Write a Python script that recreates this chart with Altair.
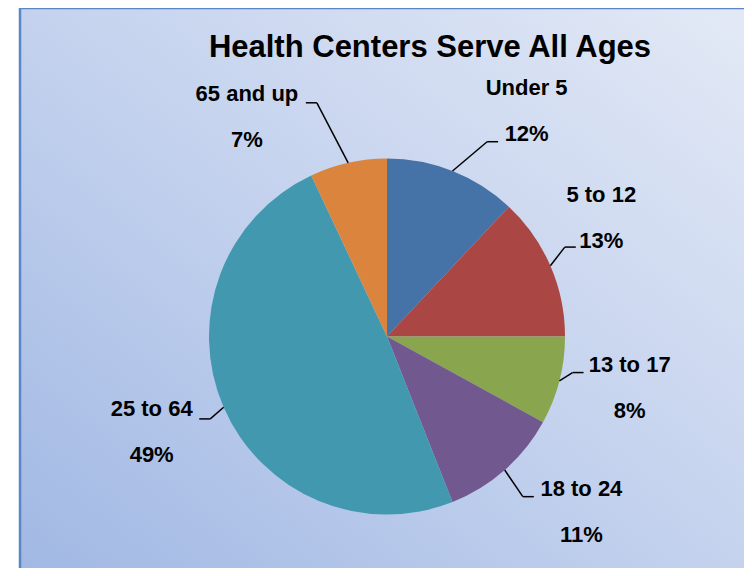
import altair as alt
import pandas as pd

# ---- data ----
CATEGORIES = ["Under 5", "5 to 12", "13 to 17", "18 to 24", "25 to 64", "65 and up"]
PERCENTS = [12, 13, 8, 11, 49, 7]
COLORS = ["#4572A7", "#AA4643", "#89A54E", "#71588F", "#4198AF", "#DB843D"]
TITLE = "Health Centers Serve All Ages"

# ---- label layout (relative to each slice's middle angle) ----
LABEL_SHIFT_DEG = [10.2, -5.6, -2.5, -6.5, 1.3, -20.0]
LABEL_DIST = [265, 245, 248, 262, 254, 260]
ELBOW_SHIFT_DEG = [5.6, -3.3, -3.4, 1.1, -1.6, -4.1]
ELBOW_DIST = [219, 199, 189, 210, 195, 244]

W, H = 736, 560
CX, CY, R = 379, 328.5, 178
FONT = "Liberation Sans"

df = pd.DataFrame({
    "category": CATEGORIES,
    "value": PERCENTS,
    "idx": list(range(len(CATEGORIES))),
    "lshift": LABEL_SHIFT_DEG,
    "ldist": LABEL_DIST,
    "eshift": ELBOW_SHIFT_DEG,
    "edist": ELBOW_DIST,
})

one = pd.DataFrame({"a": [0]})

background = alt.Chart(one).mark_rect(
    fill=alt.Gradient(
        gradient="linear",
        stops=[alt.GradientStop(color="#9fb7e3", offset=0),
               alt.GradientStop(color="#c4d2ee", offset=0.5),
               alt.GradientStop(color="#e4eaf6", offset=1)],
        x1=0, y1=1, x2=1, y2=0,
    ),
    stroke="#5a86c6",
    strokeWidth=2.5,
).encode(
    x=alt.value(12), x2=alt.value(W + 30),
    y=alt.value(0), y2=alt.value(H + 30),
)

title = alt.Chart(one).mark_text(
    text=TITLE, font=FONT, fontSize=31, fontWeight="bold",
    align="center", baseline="alphabetic", color="#000000",
).encode(x=alt.value(422), y=alt.value(49))

pie = alt.Chart(df).mark_arc(outerRadius=R).encode(
    theta=alt.Theta("value:Q", stack=True),
    color=alt.Color("category:N", scale=alt.Scale(domain=CATEGORIES, range=COLORS), legend=None),
    order=alt.Order("idx:Q"),
    x=alt.value(CX),
    y=alt.value(CY),
)

geo = alt.Chart(df).transform_joinaggregate(
    total="sum(value)"
).transform_window(
    cum="sum(value)", sort=[alt.SortField("idx")], frame=[None, 0]
).transform_calculate(
    mid="(datum.cum - datum.value / 2) / datum.total * 2 * PI",
).transform_calculate(
    ea="datum.mid + datum.eshift * PI / 180",
    la="datum.mid + datum.lshift * PI / 180",
    pct="datum.value + '%'",
).transform_calculate(
    x0=f"{CX} + {R} * sin(datum.mid)",
    y0=f"{CY} - {R} * cos(datum.mid)",
    x1=f"{CX} + datum.edist * sin(datum.ea)",
    y1=f"{CY} - datum.edist * cos(datum.ea)",
    lx=f"{CX} + datum.ldist * sin(datum.la)",
    ly=f"{CY} - datum.ldist * cos(datum.la)",
).transform_calculate(
    x2="datum.x1 + (sin(datum.ea) > 0 ? 11 : -11)",
    nameY="datum.ly - 23",
    pctY="datum.ly + 23",
)

leader1 = geo.mark_rule(color="#000000", strokeWidth=1.5).encode(
    x=alt.X("x0:Q", scale=None, axis=None),
    y=alt.Y("y0:Q", scale=None, axis=None),
    x2="x1:Q", y2="y1:Q",
)
leader2 = geo.mark_rule(color="#000000", strokeWidth=1.5).encode(
    x=alt.X("x1:Q", scale=None, axis=None),
    y=alt.Y("y1:Q", scale=None, axis=None),
    x2="x2:Q", y2="y1:Q",
)

names = geo.mark_text(font=FONT, fontSize=22, fontWeight="bold", color="#000000",
                      align="center", baseline="middle").encode(
    x=alt.X("lx:Q", scale=None, axis=None),
    y=alt.Y("nameY:Q", scale=None, axis=None),
    text="category:N",
)
pcts = geo.mark_text(font=FONT, fontSize=22, fontWeight="bold", color="#000000",
                     align="center", baseline="middle").encode(
    x=alt.X("lx:Q", scale=None, axis=None),
    y=alt.Y("pctY:Q", scale=None, axis=None),
    text="pct:N",
)

chart = alt.layer(background, title, pie, leader1, leader2, names, pcts).resolve_scale(
    x="independent", y="independent"
).properties(
    width=W, height=H, autosize=alt.AutoSizeParams(type="none"), padding=0,
    background="#ffffff",
).configure_view(stroke=None)

chart.save("out.html", embed_options={"renderer": "svg", "actions": False})
